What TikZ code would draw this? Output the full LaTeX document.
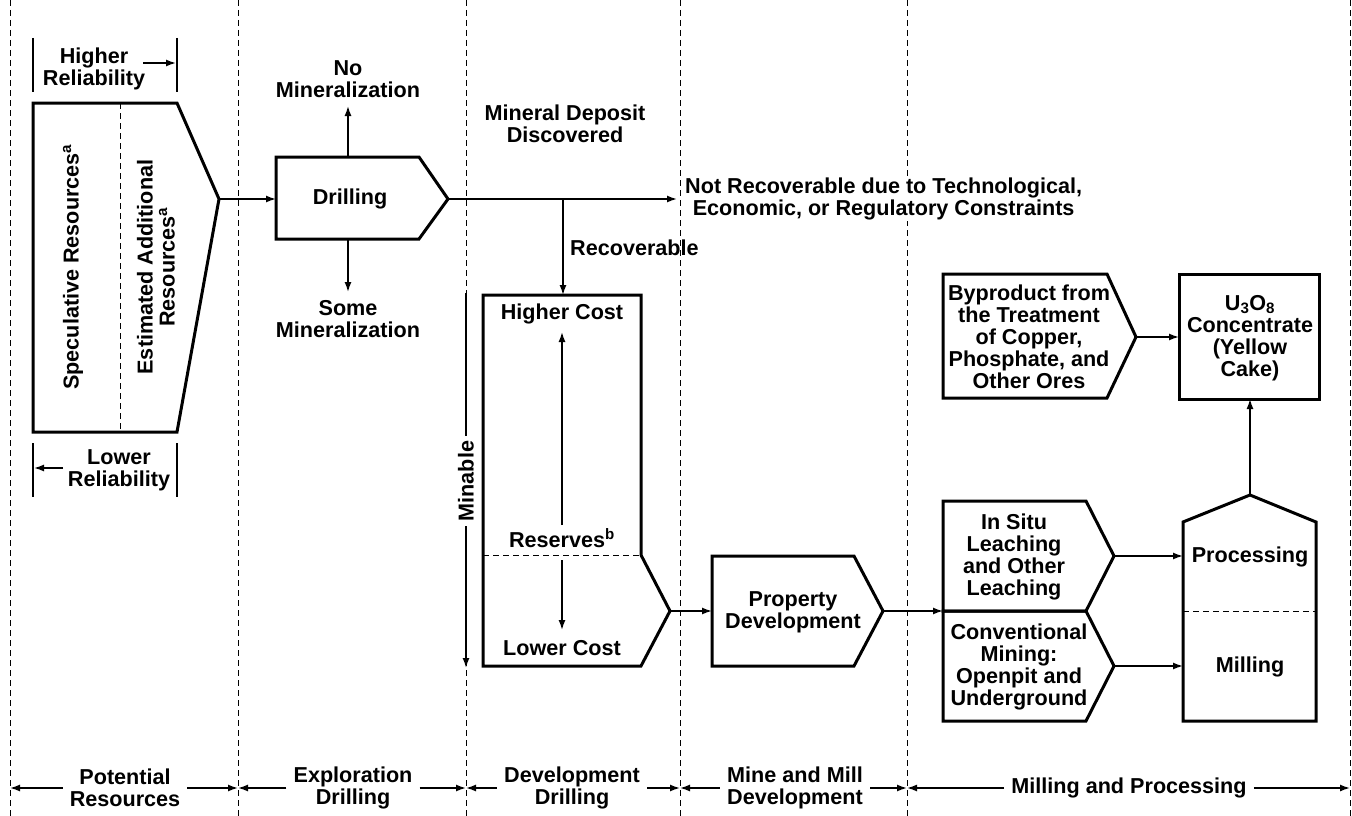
\documentclass[tikz,border=0pt]{standalone}
\usepackage{fontspec}
\setmainfont{Liberation Sans}
\usetikzlibrary{arrows.meta}
\begin{document}
\tikzset{
  boxline/.style={line width=3pt, line join=miter},
  arr/.style={line width=1.5pt, -{Latex[length=10pt,width=7pt]}},
  thinline/.style={line width=1.5pt},
  divider/.style={line width=1pt, dash pattern=on 6pt off 4pt},
  lbl/.style={font=\bfseries\fontsize{21.6}{22}\selectfont, align=center, inner sep=2pt},
  phase/.style={lbl, inner sep=7pt},
}
\begin{tikzpicture}[x=1pt,y=-1pt]
\useasboundingbox (0,0) rectangle (1352,816);
% ---------- phase dividers ----------
\coordinate (dT0) at (10,0);   \coordinate (dB0) at (10,816);   \coordinate (dM0) at (10,788);
\coordinate (dT1) at (238,0);  \coordinate (dB1) at (238,816);  \coordinate (dM1) at (238,788);
\coordinate (dT2) at (466,0);  \coordinate (dB2) at (466,816);  \coordinate (dM2) at (466,788);
\coordinate (dT3) at (680,0);  \coordinate (dB3) at (680,816);  \coordinate (dM3) at (680,788);
\coordinate (dT4) at (907,0);  \coordinate (dB4) at (907,816);  \coordinate (dM4) at (907,788);
\coordinate (dT5) at (1350,0); \coordinate (dB5) at (1350,816); \coordinate (dM5) at (1350,788);
\foreach \n in {0,...,5} { \draw[divider] (dT\n) -- (dB\n); }

% ---------- potential resources ----------
\draw[boxline] (33,103) -- (177,103) -- (219,199) -- (177,432) -- (33,432) -- cycle;
\coordinate (resOut) at (219,199);
\draw[divider] (120,103) -- (120,432);
\node[lbl, rotate=90] (spec) at (73,267) {Speculative Resources\textsuperscript{a}};
\node[lbl, rotate=90] (est) at (156,267) {Estimated Additional\\Resources\textsuperscript{a}};

\node[lbl] (hirel) at (94,69) {Higher\\Reliability};
\draw[thinline] (33,38) -- (33,92);
\draw[thinline] (177,38) -- (177,92);
\coordinate (hiA) at (143,63); \coordinate (hiB) at (176,63);
\draw[arr] (hiA) -- (hiB);

\node[lbl] (lorel) at (119,470.5) {Lower\\Reliability};
\draw[thinline] (33,443) -- (33,497);
\draw[thinline] (177,443) -- (177,497);
\coordinate (loA) at (63,468); \coordinate (loB) at (34,468);
\draw[arr] (loA) -- (loB);

% ---------- drilling ----------
\draw[boxline] (276,157) -- (419,157) -- (448,199) -- (419,239) -- (276,239) -- cycle;
\node[lbl] (drill) at (350,199) {Drilling};
\coordinate (drIn) at (276,199);
\coordinate (drOut) at (448,199);
\coordinate (drTop) at (348,157);
\coordinate (drBot) at (348,239);
\draw[arr] (resOut) -- (drIn);

\node[lbl] (nomin) at (348,79) {No\\Mineralization};
\coordinate (nominTip) at (348,106);
\draw[arr] (drTop) -- (nominTip);
\node[lbl] (somemin) at (348,319.5) {Some\\Mineralization};
\coordinate (someTip) at (348,292);
\draw[arr] (drBot) -- (someTip);

\node[lbl] (mindep) at (565,123.5) {Mineral Deposit\\Discovered};
\coordinate (junc) at (563,199);
\coordinate (nrTip) at (677,199);
\draw[arr] (drOut) -- (nrTip);
\node[lbl, anchor=west, fill=white, inner sep=1pt] (notrec) at (684,198.5) {Not Recoverable due to Technological,\\Economic, or Regulatory Constraints};
\node[lbl, anchor=west] (recov) at (568,248) {Recoverable};

% ---------- development drilling ----------
\draw[boxline] (483,295) -- (641,295) -- (641,555) -- (670,611) -- (641,666) -- (483,666) -- cycle;
\coordinate (devTop) at (563,295);
\coordinate (devOut) at (670,611);
\draw[arr] (junc) -- (devTop);
\draw[divider] (483,555) -- (641,555);
\node[lbl] (hicost) at (562,314) {Higher Cost};
\node[lbl] (reserves) at (562,538) {Reserves\textsuperscript{b}};
\node[lbl] (locost) at (562,648) {Lower Cost};
\coordinate (rUpA) at (562,525); \coordinate (rUpB) at (562,332);
\coordinate (rDnA) at (562,560); \coordinate (rDnB) at (562,630);
\draw[arr] (rUpA) -- (rUpB);
\draw[arr] (rDnA) -- (rDnB);

\coordinate (minTop) at (466,293); \coordinate (minBot) at (466,668);
\draw[arr] (minTop) -- (minBot);
\node[lbl, rotate=90, fill=white, inner sep=5pt] (minable) at (466,481) {Minable};

% ---------- property development ----------
\draw[boxline] (712,556) -- (854,556) -- (883,611) -- (854,666) -- (712,666) -- cycle;
\node[lbl] (propdev) at (793,612.5) {Property\\Development};
\coordinate (pdIn) at (712,611);
\coordinate (pdOut) at (883,611);
\coordinate (minIn) at (943,611);
\draw[arr] (devOut) -- (pdIn);
\draw[arr] (pdOut) -- (minIn);

% ---------- mining ----------
\draw[boxline] (943,501) -- (1086,501) -- (1114,556) -- (1086,611) -- (943,611) -- cycle;
\node[lbl] (insitu) at (1014,557) {In Situ\\Leaching\\and Other\\Leaching};
\draw[boxline] (943,611) -- (1086,611) -- (1114,666) -- (1086,721) -- (943,721) -- cycle;
\node[lbl] (conv) at (1019,666.5) {Conventional\\Mining:\\Openpit and\\Underground};
\coordinate (isOut) at (1114,556);
\coordinate (cvOut) at (1114,666);

\draw[boxline] (943,274) -- (1107,274) -- (1136,337) -- (1107,398) -- (943,398) -- cycle;
\node[lbl] (byprod) at (1029,336.5) {Byproduct from\\the Treatment\\of Copper,\\Phosphate, and\\Other Ores};
\coordinate (bpOut) at (1136,337);

% ---------- product ----------
\draw[boxline] (1179,274) rectangle (1319,399);
\node[lbl] (u3o8) at (1250,338) {U\textsubscript{3}O\textsubscript{8}\\Concentrate\\(Yellow\\Cake)};
\coordinate (uIn) at (1179,337);
\coordinate (uBot) at (1250,399);

\draw[boxline] (1183,721) -- (1183,522) -- (1250,495) -- (1316,522) -- (1316,721) -- cycle;
\draw[divider] (1183,611) -- (1316,611);
\node[lbl] (proc) at (1250,557) {Processing};
\node[lbl] (mill) at (1250,667) {Milling};
\coordinate (pcIn) at (1183,556);
\coordinate (mlIn) at (1183,666);
\coordinate (pcTop) at (1250,495);

\draw[arr] (bpOut) -- (uIn);
\draw[arr] (isOut) -- (pcIn);
\draw[arr] (cvOut) -- (mlIn);
\draw[arr] (pcTop) -- (uBot);

% ---------- phase labels ----------
\node[phase] (b1) at (125,788) {Potential\\Resources};
\node[phase] (b2) at (353,788) {Exploration\\Drilling};
\node[phase] (b3) at (572,788) {Development\\Drilling};
\node[phase] (b4) at (795,788) {Mine and Mill\\Development};
\node[phase] (b5) at (1129,788) {Milling and Processing};
\draw[arr] (b1.west) -- (dM0); \draw[arr] (b1.east) -- (dM1);
\draw[arr] (b2.west) -- (dM1); \draw[arr] (b2.east) -- (dM2);
\draw[arr] (b3.west) -- (dM2); \draw[arr] (b3.east) -- (dM3);
\draw[arr] (b4.west) -- (dM3); \draw[arr] (b4.east) -- (dM4);
\draw[arr] (b5.west) -- (dM4); \draw[arr] (b5.east) -- (dM5);
\end{tikzpicture}
\end{document}
